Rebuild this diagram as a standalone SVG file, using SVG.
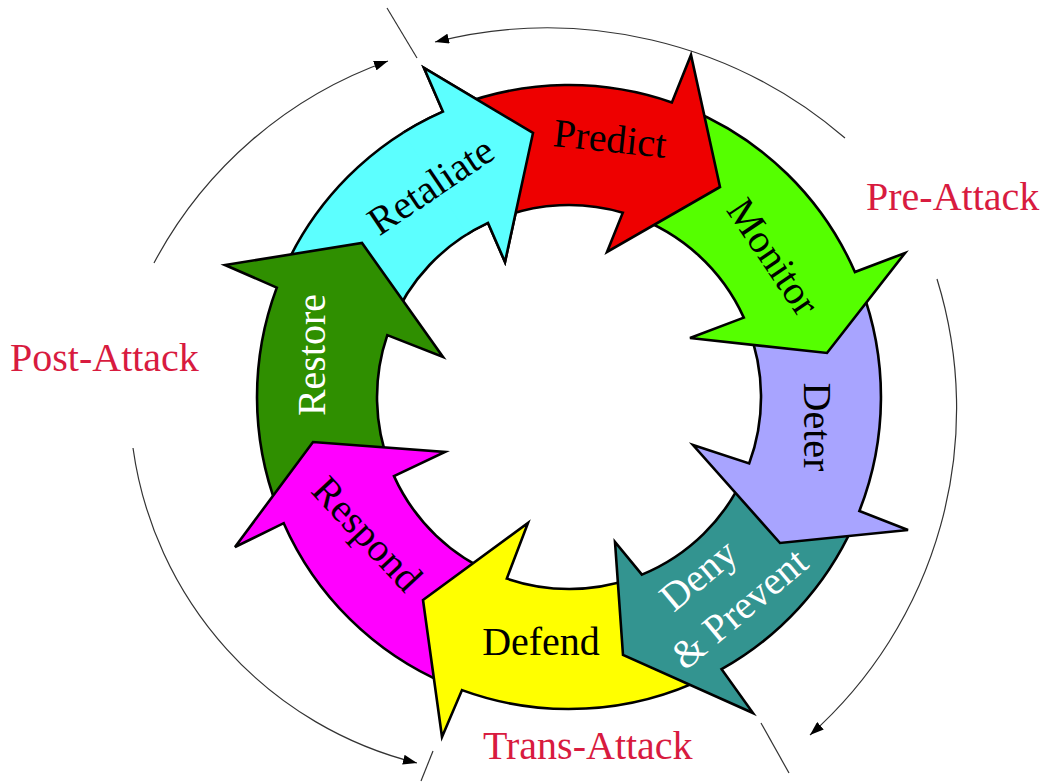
<svg xmlns="http://www.w3.org/2000/svg" xmlns:xlink="http://www.w3.org/1999/xlink" width="1045" height="782" viewBox="0 0 1045 782">
<style>
.arrow{stroke:#000;stroke-width:2.6;stroke-linejoin:miter}
.lbl{font-family:"Liberation Serif","Times New Roman",serif;font-size:40px;text-anchor:middle}
.phase{font-family:"Liberation Serif","Times New Roman",serif;font-size:40px;fill:#D81B3F}
.arc{fill:none;stroke:#333;stroke-width:1.2}
.tick{stroke:#333;stroke-width:1.2}
</style>
<defs>
<marker id="ah" markerUnits="userSpaceOnUse" markerWidth="15" markerHeight="10" refX="14" refY="5" orient="auto">
<path d="M0,0 L14,5 L0,10 Z" fill="#000"/>
</marker>
<clipPath id="retClip"><polygon points="569,397 346,41 584,-23"/></clipPath>
</defs>
<rect width="1045" height="782" fill="#fff"/>

<g id="phases">
<path class="arc" d="M845,138 A457,457 0 0 0 435,42" marker-end="url(#ah)"/>
<path class="arc" d="M154,263 A426,426 0 0 1 388,61" marker-end="url(#ah)"/>
<path class="arc" d="M133,448 A378,378 0 0 0 417,763" marker-end="url(#ah)"/>
<path class="arc" d="M937,279 A437,437 0 0 1 810,735" marker-end="url(#ah)"/>
<line class="tick" x1="387" y1="8" x2="417" y2="58"/>
<line class="tick" x1="433" y1="751" x2="421" y2="781"/>
<line class="tick" x1="761" y1="723" x2="789" y2="773"/>
<text class="phase" x="866" y="210">Pre-Attack</text>
<text class="phase" x="10" y="371">Post-Attack</text>
<text class="phase" x="483" y="759">Trans-Attack</text>
</g>

<g id="retaliate">
<path class="arrow" fill="#5CFFFF" d="M282.9,272.4 A312,312 0 0 1 442.9,111.6 L424,68 L533,133 L505,262 L488,222.9 A192,192 0 0 0 390.7,325.7 Z"/>
<text class="lbl" transform="translate(431,186) rotate(-34)" x="0" y="13">Retaliate</text>
</g>
<g id="restore">
<path class="arrow" fill="#2F8F00" d="M277.5,508.1 A312,312 0 0 1 276.8,287.6 L225,265 L362,243 L443,357 L387.3,335.1 A192,192 0 0 0 390.1,466.8 Z"/>
<text class="lbl" fill="#fff" transform="translate(312,355) rotate(-90)" x="0" y="13">Restore</text>
</g>
<g id="respond">
<path class="arrow" fill="#FF00FF" d="M446.8,684.1 A312,312 0 0 1 283.7,523.2 L235,547 L313,442 L445,452 L394,476.1 A192,192 0 0 0 497.3,575.1 Z"/>
<text class="lbl" transform="translate(367,534) rotate(47)" x="0" y="13">Respond</text>
</g>
<g id="defend">
<path class="arrow" fill="#FFFF00" d="M707.1,676.8 A312,312 0 0 1 462,690.1 L442,737 L423,600 L528,523 L506.8,578.6 A192,192 0 0 0 632.5,578.2 Z"/>
<text class="lbl" x="541" y="655">Defend</text>
</g>
<g id="deny">
<path class="arrow" fill="#339490" d="M853.1,526 A312,312 0 0 1 721.6,669.2 L753,713 L623,655 L615,542 L641.9,574.6 A192,192 0 0 0 745.4,472.8 Z"/>
<g class="lbl" fill="#fff" transform="translate(719,592) rotate(-40)">
<text x="-5" y="-13">Deny</text>
<text x="5" y="39">&amp; Prevent</text>
</g>
</g>
<g id="deter">
<path class="arrow" fill="#A8A4FF" d="M861,287.2 A312,312 0 0 1 859.4,510.9 L908,530 L780,543 L693,445 L749.2,463.4 A192,192 0 0 0 747.7,326.8 Z"/>
<text class="lbl" transform="translate(818,427) rotate(90)" x="0" y="14">Deter</text>
</g>
<g id="monitor">
<path class="arrow" fill="#55FF00" d="M687.1,108.2 A312,312 0 0 1 854.9,272 L905,253 L827,353 L690,338 L743.8,317.6 A192,192 0 0 0 632.4,215.8 Z"/>
<text class="lbl" transform="translate(773,257) rotate(56)" x="0" y="13">Monitor</text>
</g>
<g id="predict">
<path class="arrow" fill="#EE0000" d="M458,105.4 A312,312 0 0 1 671.9,102.4 L691,55 L720,187 L607,252 L622.8,212.7 A192,192 0 0 0 497.2,218.9 Z"/>
<text class="lbl" transform="translate(610,139) rotate(6)" x="0" y="13">Predict</text>
</g>
<use id="retaliate-head" xlink:href="#retaliate" clip-path="url(#retClip)"/>
</svg>
